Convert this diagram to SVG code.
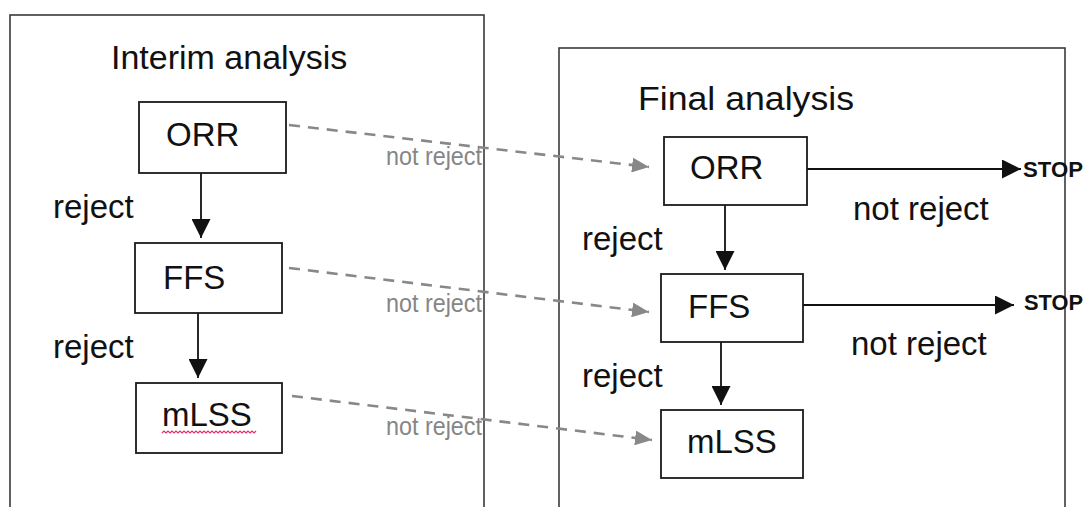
<svg xmlns="http://www.w3.org/2000/svg" width="1086" height="507" viewBox="0 0 1086 507">
<style>
  .panel { fill: none; stroke: #3a3a3a; stroke-width: 1.6; }
  .box { fill: #ffffff; stroke: #1a1a1a; stroke-width: 1.8; }
  .t { font-family: "Liberation Sans", Arial, sans-serif; fill: #111; }
  .lbl { font-size: 33px; }
  .title { font-size: 34px; }
  .gray { font-family: "Liberation Sans", Arial, sans-serif; font-size: 25px; fill: #868686; }
  .stop { font-family: "Liberation Sans", Arial, sans-serif; font-size: 22px; font-weight: bold; fill: #111; }
  .solid { stroke: #111; stroke-width: 1.8; fill: none; marker-end: url(#ah); }
  .dash { stroke: #888; stroke-width: 2.6; fill: none; stroke-dasharray: 11 8; marker-end: url(#gh); }
</style>
<defs>
  <marker id="ah" markerUnits="userSpaceOnUse" markerWidth="19" markerHeight="19" viewBox="0 0 18 18" refX="18" refY="9" orient="auto">
    <path d="M0,0 L18,9 L0,18 Z" fill="#111"/>
  </marker>
  <marker id="gh" markerUnits="userSpaceOnUse" markerWidth="17" markerHeight="15" viewBox="0 0 16 14" refX="16" refY="7" orient="auto">
    <path d="M0,0 L16,7 L0,14 Z" fill="#888"/>
  </marker>
</defs>

<rect class="panel" x="10" y="15" width="474" height="520"/>
<rect class="panel" x="559" y="48" width="506" height="490"/>
<text class="t title" x="111" y="69">Interim analysis</text>
<text class="t title" x="638" y="110" textLength="216" lengthAdjust="spacingAndGlyphs">Final analysis</text>

<g id="connectors">
  <line class="solid" x1="201" y1="173" x2="201" y2="238"/>
  <line class="solid" x1="198" y1="313" x2="198" y2="378"/>
  <line class="solid" x1="725" y1="205" x2="725" y2="270"/>
  <line class="solid" x1="721" y1="342" x2="721" y2="405"/>
  <line class="solid" x1="807" y1="169" x2="1021" y2="169"/>
  <line class="solid" x1="803" y1="305" x2="1014" y2="305"/>
  <line class="dash" x1="289" y1="125" x2="649" y2="167"/>
  <line class="dash" x1="289" y1="268" x2="649" y2="312"/>
  <line class="dash" x1="292" y1="396" x2="652" y2="440"/>
  <text class="t lbl" x="53" y="218">reject</text>
  <text class="t lbl" x="53" y="358">reject</text>
  <text class="t lbl" x="582" y="250">reject</text>
  <text class="t lbl" x="582" y="387">reject</text>
  <text class="t lbl" x="853" y="220">not reject</text>
  <text class="t lbl" x="851" y="355">not reject</text>
  <text class="gray" x="386" y="165" textLength="96" lengthAdjust="spacingAndGlyphs">not reject</text>
  <text class="gray" x="386" y="312" textLength="96" lengthAdjust="spacingAndGlyphs">not reject</text>
  <text class="gray" x="386" y="435" textLength="96" lengthAdjust="spacingAndGlyphs">not reject</text>
  <text class="stop" x="1023" y="177" textLength="60" lengthAdjust="spacingAndGlyphs">STOP</text>
  <text class="stop" x="1024" y="310" textLength="59" lengthAdjust="spacingAndGlyphs">STOP</text>
</g>

<g id="i-orr">
  <rect class="box" x="139" y="102" width="147" height="71"/>
  <text class="t lbl" x="166" y="146">ORR</text>
</g>
<g id="i-ffs">
  <rect class="box" x="135" y="243" width="147" height="70"/>
  <text class="t lbl" x="163" y="289">FFS</text>
</g>
<g id="i-mlss">
  <rect class="box" x="136" y="383" width="146" height="70"/>
  <text class="t lbl" x="162" y="426">mLSS</text>
  <path d="M162,433 l2,-2 l2,2 l2,-2 l2,2 l2,-2 l2,2 l2,-2 l2,2 l2,-2 l2,2 l2,-2 l2,2 l2,-2 l2,2 l2,-2 l2,2 l2,-2 l2,2 l2,-2 l2,2 l2,-2 l2,2 l2,-2 l2,2 l2,-2 l2,2 l2,-2 l2,2 l2,-2 l2,2 l2,-2 l2,2 l2,-2 l2,2 l2,-2 l2,2 l2,-2 l2,2 l2,-2 l2,2 l2,-2 l2,2 l2,-2 l2,2 l2,-2 l2,2 l2,-2" fill="none" stroke="#e0306a" stroke-width="1.2"/>
</g>
<g id="f-orr">
  <rect class="box" x="664" y="137" width="143" height="68"/>
  <text class="t lbl" x="690" y="179">ORR</text>
</g>
<g id="f-ffs">
  <rect class="box" x="661" y="274" width="142" height="68"/>
  <text class="t lbl" x="688" y="318">FFS</text>
</g>
<g id="f-mlss">
  <rect class="box" x="661" y="410" width="142" height="68"/>
  <text class="t lbl" x="687" y="453">mLSS</text>
</g>
</svg>
